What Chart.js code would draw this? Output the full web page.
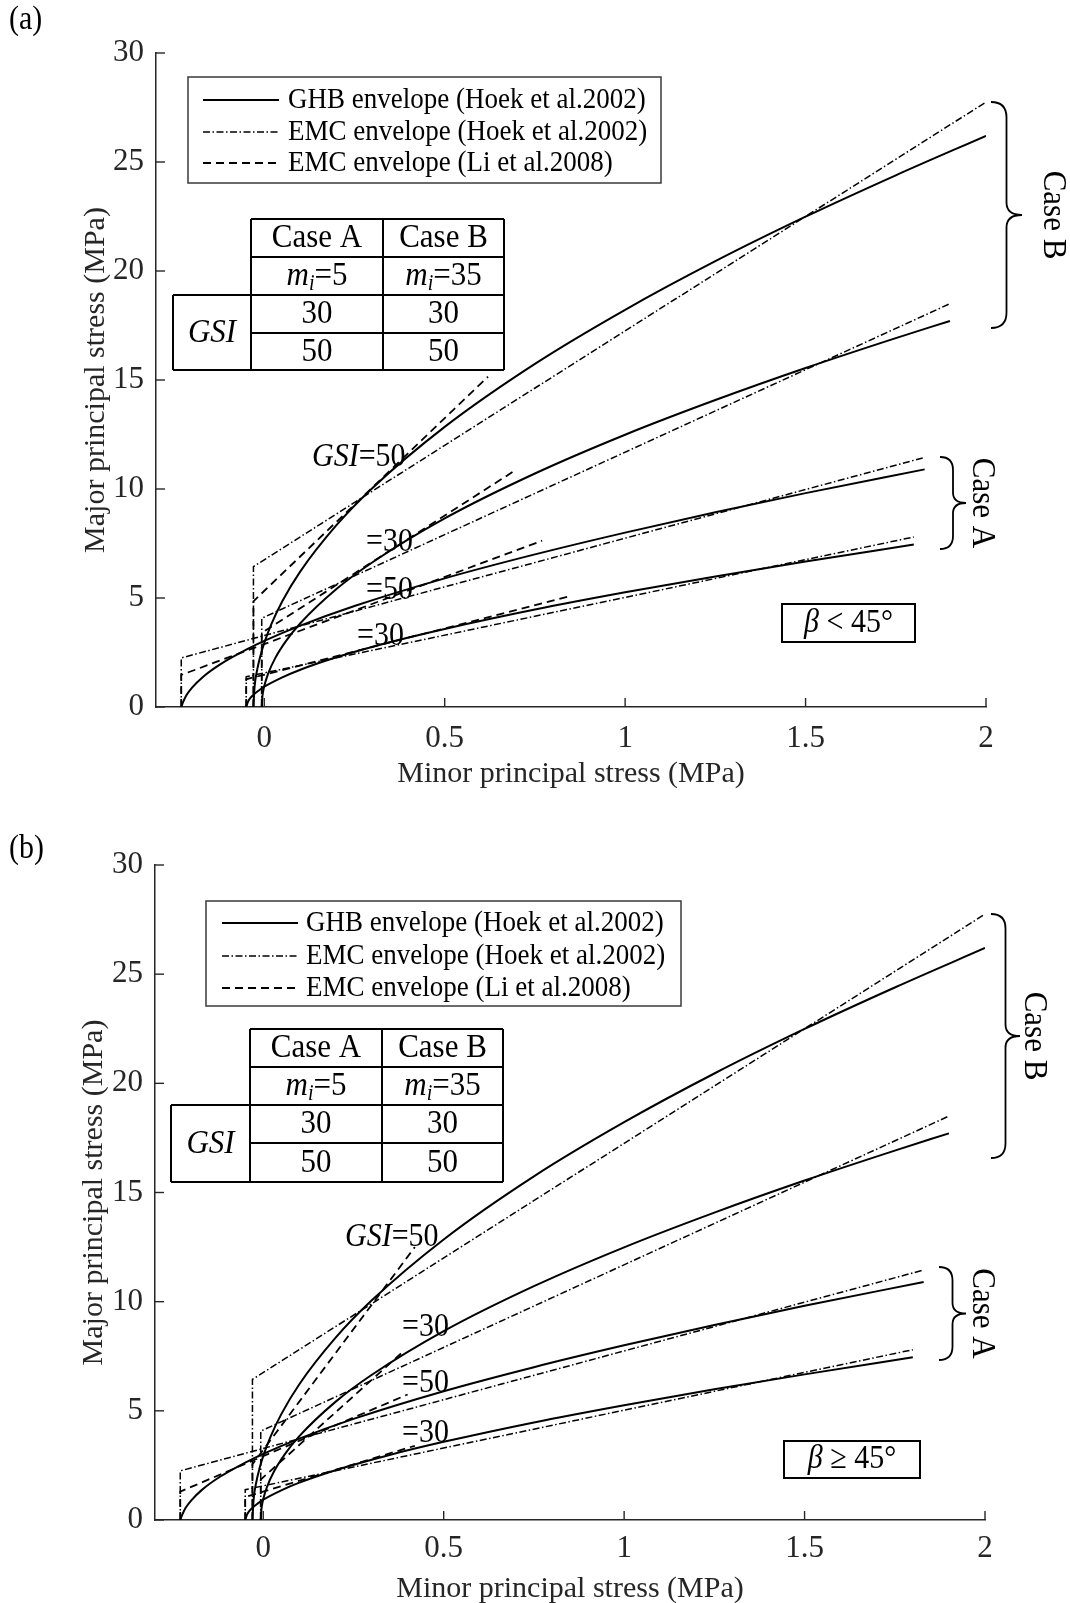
<!DOCTYPE html>
<html>
<head>
<meta charset="utf-8">
<script src="https://cdn.jsdelivr.net/npm/chart.js@4.4.1/dist/chart.umd.min.js"></script>
<style>
  body { margin: 0; background: #fff; }
  #wrap { position: relative; width: 1070px; height: 1603px; }
  canvas { position: absolute; left: 0; }
</style>
</head>
<body>
<div id="wrap">
  <canvas id="chartA" width="1070" height="801" style="top:0px"></canvas>
  <canvas id="chartB" width="1070" height="802" style="top:801px"></canvas>
</div>
<script>
// ---- data: [minor principal stress, major principal stress] (MPa)
const xTicks = [0, 0.5, 1, 1.5, 2];
const yTicks = [0, 5, 10, 15, 20, 25, 30];

// GHB envelopes (identical in both panels)
const ghbA30 = [[-0.05, 0], [-0.045, 0.25], [-0.04, 0.38], [-0.03, 0.56], [-0.015, 0.76], [0, 0.93], [0.05, 1.36], [0.1, 1.71], [0.2, 2.28], [0.35, 2.98], [0.5, 3.58], [0.75, 4.47], [1.0, 5.26], [1.25, 5.99], [1.5, 6.67], [1.8, 7.45]];
const ghbA50 = [[-0.23, 0], [-0.225, 0.22], [-0.215, 0.56], [-0.2, 0.89], [-0.17, 1.38], [-0.12, 1.98], [-0.05, 2.63], [0, 3.03], [0.1, 3.73], [0.25, 4.63], [0.5, 5.9], [0.75, 7.0], [1.0, 8.0], [1.25, 8.93], [1.5, 9.81], [1.83, 10.9]];
const ghbB30 = [[-0.007, 0], [-0.005, 0.51], [-0.002, 0.81], [0, 0.96], [0.01, 1.5], [0.03, 2.23], [0.06, 3.02], [0.1, 3.84], [0.2, 5.41], [0.3, 6.64], [0.5, 8.65], [0.75, 10.71], [1.0, 12.49], [1.25, 14.08], [1.5, 15.55], [1.75, 16.92], [1.9, 17.71]];
const ghbB50 = [[-0.03, 0], [-0.027, 0.9], [-0.02, 1.68], [-0.01, 2.39], [0, 2.94], [0.02, 3.81], [0.05, 4.85], [0.1, 6.22], [0.2, 8.34], [0.3, 10.05], [0.5, 12.85], [0.75, 15.74], [1.0, 18.22], [1.25, 20.45], [1.5, 22.49], [1.75, 24.39], [2.0, 26.2]];

// EMC envelopes, Hoek et al. 2002 (identical in both panels)
const hoekA30 = [[-0.05, 0], [-0.05, 1.39], [1.8, 7.8]];
const hoekA50 = [[-0.23, 0], [-0.23, 2.25], [1.83, 11.45]];
const hoekB30 = [[-0.007, 0], [-0.007, 4.07], [1.9, 18.5]];
const hoekB50 = [[-0.03, 0], [-0.03, 6.44], [2.0, 27.75]];

// EMC envelopes, Li et al. 2008, beta < 45
const liA30a = [[-0.05, 0], [-0.05, 1.27], [0.84, 5.05]];
const liA50a = [[-0.23, 0], [-0.23, 1.47], [0.77, 7.63]];
const liB30a = [[-0.007, 0], [-0.007, 3.4], [0.69, 10.8]];
const liB50a = [[-0.03, 0], [-0.03, 4.85], [0.62, 15.15]];

// EMC envelopes, Li et al. 2008, beta >= 45
const liA30b = [[-0.05, 0], [-0.05, 1.05], [0.42, 3.4]];
const liA50b = [[-0.23, 0], [-0.23, 1.3], [0.4, 5.75]];
const liB30b = [[-0.007, 0], [-0.007, 1.85], [0.39, 7.75]];
const liB50b = [[-0.03, 0], [-0.03, 2.55], [0.42, 12.5]];

const legendLabels = ["GHB envelope (Hoek et al.2002)", "EMC envelope (Hoek et al.2002)", "EMC envelope (Li et al.2008)"];
const caseNames = ["Case A", "Case B"];
const miValues = ["5", "35"];
const gsiValues = ["30", "50"];

// ---- styles
const FONT = '"Liberation Serif", "Times New Roman", serif';
const axisColor = "#262626";
const STRETCH = 1.12; // the source text is a little taller than plain Times
const styles = [
  { width: 2, dash: [] },
  { width: 1.5, dash: [7, 2.5, 1.5, 2.5] },
  { width: 1.8, dash: [8, 5] },
];

function font(size, italic) {
  return (italic ? "italic " : "") + size + "px " + FONT;
}

function line(ctx, x1, y1, x2, y2) {
  ctx.beginPath();
  ctx.moveTo(x1, y1);
  ctx.lineTo(x2, y2);
  ctx.stroke();
}

// parts: [text, style] with style "" | "i" | "sub"
function drawRich(ctx, parts, x, y, size, align) {
  let w = 0;
  const seg = parts.map(([t, s]) => {
    const sz = s === "sub" ? size * 0.65 : size;
    ctx.font = font(sz, s !== "");
    const m = ctx.measureText(t).width;
    w += m;
    return { t, s, sz, m };
  });
  let cx = align === "center" ? x - w / 2 : x;
  ctx.save();
  ctx.translate(0, y);
  ctx.scale(1, STRETCH);
  ctx.textAlign = "left";
  ctx.textBaseline = "middle";
  seg.forEach((g) => {
    ctx.font = font(g.sz, g.s !== "");
    ctx.fillText(g.t, cx, g.s === "sub" ? size * 0.22 : 0);
    cx += g.m;
  });
  ctx.restore();
}

function brace(ctx, x, y0, y1, w) {
  const r = w / 2, xs = x + r, xt = x + w, ym = (y0 + y1) / 2;
  ctx.beginPath();
  ctx.moveTo(x, y0);
  ctx.quadraticCurveTo(xs, y0, xs, y0 + r);
  ctx.lineTo(xs, ym - r * 0.8);
  ctx.quadraticCurveTo(xs, ym, xt, ym);
  ctx.quadraticCurveTo(xs, ym, xs, ym + r * 0.8);
  ctx.lineTo(xs, y1 - r);
  ctx.quadraticCurveTo(xs, y1, x, y1);
  ctx.stroke();
}

function drawTable(ctx, t) {
  const [a, b, c, d] = t.xs;
  const [r0, r1, r2, r3, r4] = t.ys;
  ctx.strokeStyle = "#000";
  ctx.lineWidth = 2;
  ctx.setLineDash([]);
  line(ctx, b, r0, d, r0);
  line(ctx, b, r1, d, r1);
  line(ctx, a, r2, d, r2);
  line(ctx, b, r3, d, r3);
  line(ctx, a, r4, d, r4);
  line(ctx, a, r2, a, r4);
  line(ctx, b, r0, b, r4);
  line(ctx, c, r0, c, r4);
  line(ctx, d, r0, d, r4);
  const cols = [(b + c) / 2, (c + d) / 2];
  ctx.fillStyle = "#000";
  cols.forEach((cx, i) => {
    drawRich(ctx, [[caseNames[i], ""]], cx, (r0 + r1) / 2, 31, "center");
    drawRich(ctx, [["m", "i"], ["i", "sub"], ["=" + miValues[i], ""]], cx, (r1 + r2) / 2, 31, "center");
    drawRich(ctx, [[gsiValues[0], ""]], cx, (r2 + r3) / 2, 31, "center");
    drawRich(ctx, [[gsiValues[1], ""]], cx, (r3 + r4) / 2, 31, "center");
  });
  drawRich(ctx, [["GSI", "i"]], (a + b) / 2, (r2 + r4) / 2, 31, "center");
}

function decorPlugin(p) {
  return {
    id: "decor",
    afterDraw(chart) {
      const ctx = chart.ctx;
      const area = chart.chartArea;
      const xs = chart.scales.x, ys = chart.scales.y;
      ctx.save();
      // inward tick marks
      ctx.strokeStyle = axisColor;
      ctx.lineWidth = 1.4;
      xs.ticks.forEach((t) => {
        const px = xs.getPixelForValue(t.value);
        line(ctx, px, area.bottom, px, area.bottom - 9);
      });
      ys.ticks.forEach((t) => {
        const py = ys.getPixelForValue(t.value);
        line(ctx, area.left, py, area.left + 9, py);
      });

      ctx.translate(0, -p.top);
      ctx.fillStyle = "#000";

      // panel tag
      drawRich(ctx, [[p.tag.text, ""]], p.tag.x, p.tag.y, 30, "left");

      // legend
      const L = p.legend;
      ctx.fillStyle = "#fff";
      ctx.fillRect(L.box[0], L.box[1], L.box[2] - L.box[0], L.box[3] - L.box[1]);
      ctx.strokeStyle = "#3a3a3a";
      ctx.lineWidth = 1.5;
      ctx.strokeRect(L.box[0], L.box[1], L.box[2] - L.box[0], L.box[3] - L.box[1]);
      ctx.fillStyle = "#000";
      legendLabels.forEach((lab, i) => {
        ctx.strokeStyle = "#000";
        ctx.lineWidth = styles[i].width;
        ctx.setLineDash(styles[i].dash);
        line(ctx, L.lineX[0], L.rows[i], L.lineX[1], L.rows[i]);
        ctx.setLineDash([]);
        drawRich(ctx, [[lab, ""]], L.textX, L.rows[i], 27, "left");
      });

      // parameter table
      drawTable(ctx, p.table);

      // curve labels
      ctx.fillStyle = "#000";
      p.notes.forEach((n) => drawRich(ctx, n.parts, n.x, n.y, 30, "left"));

      // beta box
      const B = p.beta.box;
      ctx.strokeStyle = "#000";
      ctx.lineWidth = 2;
      ctx.strokeRect(B[0], B[1], B[2] - B[0], B[3] - B[1]);
      drawRich(ctx, p.beta.parts, (B[0] + B[2]) / 2, (B[1] + B[3]) / 2, 30, "center");

      // braces and case names
      ctx.lineWidth = 1.8;
      p.braces.forEach((b) => {
        brace(ctx, b.x, b.y0, b.y1, b.w);
        ctx.save();
        ctx.translate(b.tx, (b.y0 + b.y1) / 2);
        ctx.rotate(Math.PI / 2);
        ctx.scale(1, STRETCH);
        ctx.font = font(31, false);
        ctx.textAlign = "center";
        ctx.textBaseline = "middle";
        ctx.fillText(b.text, 0, 0);
        ctx.restore();
      });
      ctx.restore();
    },
  };
}

function ds(label, pts, style) {
  const s = styles[style];
  return {
    label: label,
    data: pts.map(([x, y]) => ({ x, y })),
    borderColor: "#000",
    borderWidth: s.width,
    borderDash: s.dash,
    pointRadius: 0,
    fill: false,
    cubicInterpolationMode: style === 0 ? "monotone" : "default",
    tension: 0,
  };
}

function makeChart(id, p, li) {
  const datasets = [
    ds("GHB A30", ghbA30, 0), ds("GHB A50", ghbA50, 0), ds("GHB B30", ghbB30, 0), ds("GHB B50", ghbB50, 0),
    ds("EMC Hoek A30", hoekA30, 1), ds("EMC Hoek A50", hoekA50, 1), ds("EMC Hoek B30", hoekB30, 1), ds("EMC Hoek B50", hoekB50, 1),
    ds("EMC Li A30", li[0], 2), ds("EMC Li A50", li[1], 2), ds("EMC Li B30", li[2], 2), ds("EMC Li B50", li[3], 2),
  ];
  const canvasH = p.canvasH;
  const a = p.area;
  return new Chart(document.getElementById(id).getContext("2d"), {
    type: "line",
    data: { datasets },
    options: {
      responsive: false,
      animation: false,
      devicePixelRatio: 1,
      layout: { padding: { left: 0, top: a.top - p.top, right: 1070 - a.right, bottom: 0 } },
      plugins: { legend: { display: false }, tooltip: { enabled: false } },
      scales: {
        x: {
          type: "linear",
          min: -0.3,
          max: 2,
          afterBuildTicks: (s) => { s.ticks = xTicks.map((v) => ({ value: v })); },
          afterFit: (s) => { s.height = canvasH - (a.bottom - p.top); },
          grid: { display: false, drawTicks: false },
          border: { display: true, color: axisColor, width: 1.5 },
          ticks: { font: { family: FONT, size: 31 }, color: axisColor, padding: p.xTickPad, maxRotation: 0, autoSkip: false, callback: (v) => String(v) },
          title: { display: true, text: "Minor principal stress (MPa)", color: axisColor, font: { family: FONT, size: 30 }, padding: { top: 0, bottom: p.xTitlePad } },
        },
        y: {
          type: "linear",
          min: 0,
          max: 30,
          afterBuildTicks: (s) => { s.ticks = yTicks.map((v) => ({ value: v })); },
          afterFit: (s) => { s.width = a.left; },
          grid: { display: false, drawTicks: false },
          border: { display: true, color: axisColor, width: 1.5 },
          ticks: { font: { family: FONT, size: 31 }, color: axisColor, padding: 12, autoSkip: false, callback: (v) => String(v) },
          title: { display: true, text: "Major principal stress (MPa)", color: axisColor, font: { family: FONT, size: 30 }, padding: { top: p.yTitleX - 18, bottom: 0 } },
        },
      },
    },
    plugins: [decorPlugin(p)],
  });
}

const panelA = {
  top: 0, canvasH: 801,
  area: { left: 156, top: 53, right: 986, bottom: 707 },
  xTickPad: 13, xTitlePad: 9, yTitleX: 96,
  tag: { text: "(a)", x: 9, y: 20 },
  legend: { box: [188, 77, 661, 183], lineX: [203, 279], textX: 288, rows: [100, 132, 163] },
  table: { xs: [173, 251, 383, 504], ys: [219, 257, 295, 333, 370] },
  notes: [
    { x: 312, y: 457, parts: [["GSI", "i"], ["=50", ""]] },
    { x: 366, y: 542, parts: [["=30", ""]] },
    { x: 366, y: 590, parts: [["=50", ""]] },
    { x: 357, y: 636, parts: [["=30", ""]] },
  ],
  beta: { box: [782, 604, 915, 642], parts: [["β", "i"], [" < 45°", ""]] },
  braces: [
    { x: 991, y0: 102, y1: 328, w: 31, tx: 1053, text: "Case B" },
    { x: 940, y0: 457, y1: 549, w: 26, tx: 982, text: "Case A" },
  ],
};

const panelB = {
  top: 801, canvasH: 802,
  area: { left: 155, top: 865, right: 985, bottom: 1520 },
  xTickPad: 10, xTitlePad: -4, yTitleX: 94,
  tag: { text: "(b)", x: 9, y: 849 },
  legend: { box: [206, 901, 681, 1006], lineX: [222, 298], textX: 306, rows: [923, 956, 988] },
  table: { xs: [171, 250, 382, 503], ys: [1029, 1067, 1105, 1143, 1182] },
  notes: [
    { x: 345, y: 1237, parts: [["GSI", "i"], ["=50", ""]] },
    { x: 402, y: 1327, parts: [["=30", ""]] },
    { x: 402, y: 1383, parts: [["=50", ""]] },
    { x: 402, y: 1433, parts: [["=30", ""]] },
  ],
  beta: { box: [784, 1441, 920, 1478], parts: [["β", "i"], [" ≥ 45°", ""]] },
  braces: [
    { x: 991, y0: 914, y1: 1158, w: 29, tx: 1034, text: "Case B" },
    { x: 939, y0: 1267, y1: 1360, w: 27, tx: 982, text: "Case A" },
  ],
};

makeChart("chartA", panelA, [liA30a, liA50a, liB30a, liB50a]);
makeChart("chartB", panelB, [liA30b, liA50b, liB30b, liB50b]);
</script>
</body>
</html>
